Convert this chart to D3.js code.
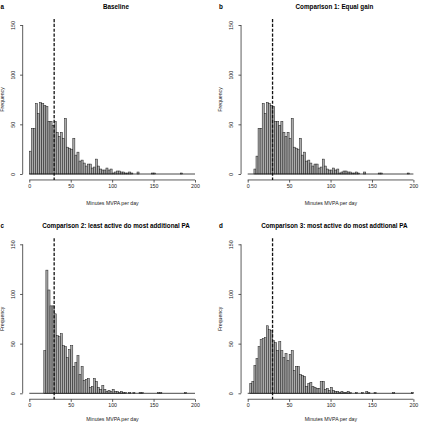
<!DOCTYPE html>
<html>
<head>
<meta charset="utf-8">
<script src="https://cdn.jsdelivr.net/npm/d3@7"></script>
<style>
    body { margin: 0; background: #fff; }
    svg { display: block; font-family: "Liberation Sans", Arial, sans-serif; }
</style>
</head>
<body>
<svg width="425" height="423"></svg>
<script>
// Histogram counts, bins of 2.5 minutes from 0 to 200
const BIN = 2.5
const baseline = [23, 46, 46, 71, 61, 72, 71, 69, 68, 53, 53, 49, 53, 42, 38, 42, 36, 56, 27, 26,
    25, 36, 19, 22, 13, 14, 11, 8, 10, 10, 6, 7, 15, 8, 5, 4, 4, 6, 4, 5,
    1, 2, 3, 3, 2, 2, 1, 1, 2, 1, 0, 0, 2, 0, 0, 0, 0, 0, 0, 1,
    1, 0, 0, 0, 0, 0, 0, 0, 0, 0, 0, 0, 0, 1, 0, 0, 0, 0, 0, 0]
const equalGain = [0, 0, 0, 5, 18, 46, 46, 71, 61, 72, 71, 69, 68, 53, 53, 49, 53, 42, 38, 42,
    36, 56, 27, 26, 25, 36, 19, 22, 13, 14, 11, 8, 10, 10, 6, 7, 15, 8, 5, 4,
    4, 6, 4, 5, 1, 2, 3, 3, 2, 2, 1, 1, 2, 1, 0, 0, 2, 0, 0, 0,
    0, 0, 0, 1, 1, 0, 0, 0, 0, 0, 0, 0, 0, 0, 0, 0, 0, 1, 0, 0]
const leastActive = [0, 0, 0, 0, 0, 0, 0, 43, 124, 104, 88, 88, 80, 58, 57, 60, 48, 47, 36, 44,
    48, 27, 31, 38, 19, 27, 13, 14, 15, 6, 7, 15, 12, 6, 4, 8, 4, 2, 3, 2,
    4, 2, 2, 1, 2, 1, 1, 0, 1, 0, 1, 0, 0, 1, 1, 0, 0, 0, 0, 0,
    0, 0, 1, 1, 0, 0, 0, 0, 0, 0, 0, 0, 0, 0, 0, 1, 0, 0, 0, 0]
const mostActive = [0, 10, 12, 28, 35, 47, 54, 55, 56, 68, 64, 63, 53, 51, 43, 52, 43, 36, 40, 33,
    39, 43, 23, 27, 27, 19, 18, 17, 7, 10, 11, 7, 6, 5, 5, 12, 12, 4, 5, 3,
    6, 3, 2, 2, 1, 2, 1, 1, 2, 1, 0, 0, 1, 0, 0, 1, 0, 2, 1, 0,
    0, 1, 0, 0, 0, 0, 0, 0, 0, 0, 1, 0, 0, 0, 0, 0, 0, 0, 0, 1]

const letters = ['a', 'b', 'c', 'd']
const titles = ['Baseline', 'Comparison 1: Equal gain',
    'Comparison 2: least active do most additional PA',
    'Comparison 3: most active do most addtional PA']
const series = [baseline, equalGain, leastActive, mostActive]
const xTicks = [0, 50, 100, 150, 200]
const yTicks = [0, 50, 100, 150]
const GUIDELINE = 30

const svg = d3.select('svg')

// panel offsets (2 x 2 grid)
const offsets = [[0, 0], [218.4, 0], [0, 219.3], [218.4, 219.3]]

function drawPanel(i) {
    const [ox, oy] = offsets[i]
    const counts = series[i]
    const g = svg.append('g').attr('transform', `translate(${ox},${oy})`)

    const x = d3.scaleLinear().domain([0, 200]).range([29.3, 195])
    const y = d3.scaleLinear().domain([0, 150]).range([174, 25])

    // bars
    g.selectAll('rect')
        .data(counts)
        .enter()
        .append('rect')
        .attr('x', (d, k) => x(k * BIN))
        .attr('width', x(BIN) - x(0))
        .attr('y', d => y(d))
        .attr('height', d => y(0) - y(d))
        .style('fill', '#ababab')
        .style('stroke', '#1a1a1a')
        .style('stroke-width', 0.5)

    // zero-height bins show up as a line along the bottom
    g.append('line')
        .attr('x1', x(0)).attr('x2', x(200))
        .attr('y1', y(0)).attr('y2', y(0))
        .style('stroke', '#1a1a1a')
        .style('stroke-width', 0.8)

    // x axis sits at the bottom of the plot region
    const xAxis = d3.axisBottom(x).tickValues(xTicks).tickSize(2.6).tickPadding(1.5)
    g.append('g')
        .attr('transform', `translate(0,${y(-6)})`)
        .call(xAxis)
        .call(a => a.select('.domain').attr('d', `M${x(0)},0H${x(200)}`))
        .call(a => a.selectAll('text').style('font-size', '5.3px').attr('fill', '#222'))
        .call(a => a.selectAll('line, .domain').attr('stroke', '#333').attr('stroke-width', 0.8))

    const yAxis = d3.axisLeft(y).tickValues(yTicks).tickSize(2.6)
    g.append('g')
        .attr('transform', `translate(${x(-8)},0)`)
        .call(yAxis)
        .call(a => a.select('.domain').attr('d', `M0,${y(0)}V${y(150)}`))
        .call(a => a.selectAll('line, .domain').attr('stroke', '#333').attr('stroke-width', 0.8))
        .call(a => a.selectAll('text')
            .attr('x', null).attr('dy', null)
            .attr('transform', 'translate(-8,0) rotate(-90)')
            .attr('text-anchor', 'middle')
            .style('font-size', '5.3px').attr('fill', '#222'))

    // reference line at 30 minutes
    g.append('line')
        .attr('x1', x(GUIDELINE)).attr('x2', x(GUIDELINE))
        .attr('y1', y(156)).attr('y2', y(-6))
        .style('stroke', '#111')
        .style('stroke-width', 1.3)
        .style('stroke-dasharray', '3.2,1.6')

    g.append('text')
        .attr('x', 116).attr('y', 9)
        .attr('text-anchor', 'middle')
        .style('font-size', '6.3px')
        .style('font-weight', 'bold')
        .text(titles[i])

    g.append('text')
        .attr('x', 0.5).attr('y', 9)
        .style('font-size', '6.3px')
        .style('font-weight', 'bold')
        .text(letters[i])

    // bottom row labels sit right at the page edge, keep them inside
    g.append('text')
        .attr('x', 112.5).attr('y', oy > 0 ? 202 : 204.5)
        .attr('text-anchor', 'middle')
        .style('font-size', '5.2px')
        .attr('fill', '#222')
        .text('Minutes MVPA per day')

    g.append('text')
        .attr('transform', `translate(4,${(y(0) + y(150)) / 2}) rotate(-90)`)
        .attr('text-anchor', 'middle')
        .style('font-size', '5.2px')
        .attr('fill', '#222')
        .text('Frequency')
}

for (let i = 0; i < 4; i++) drawPanel(i)
</script>
</body>
</html>
